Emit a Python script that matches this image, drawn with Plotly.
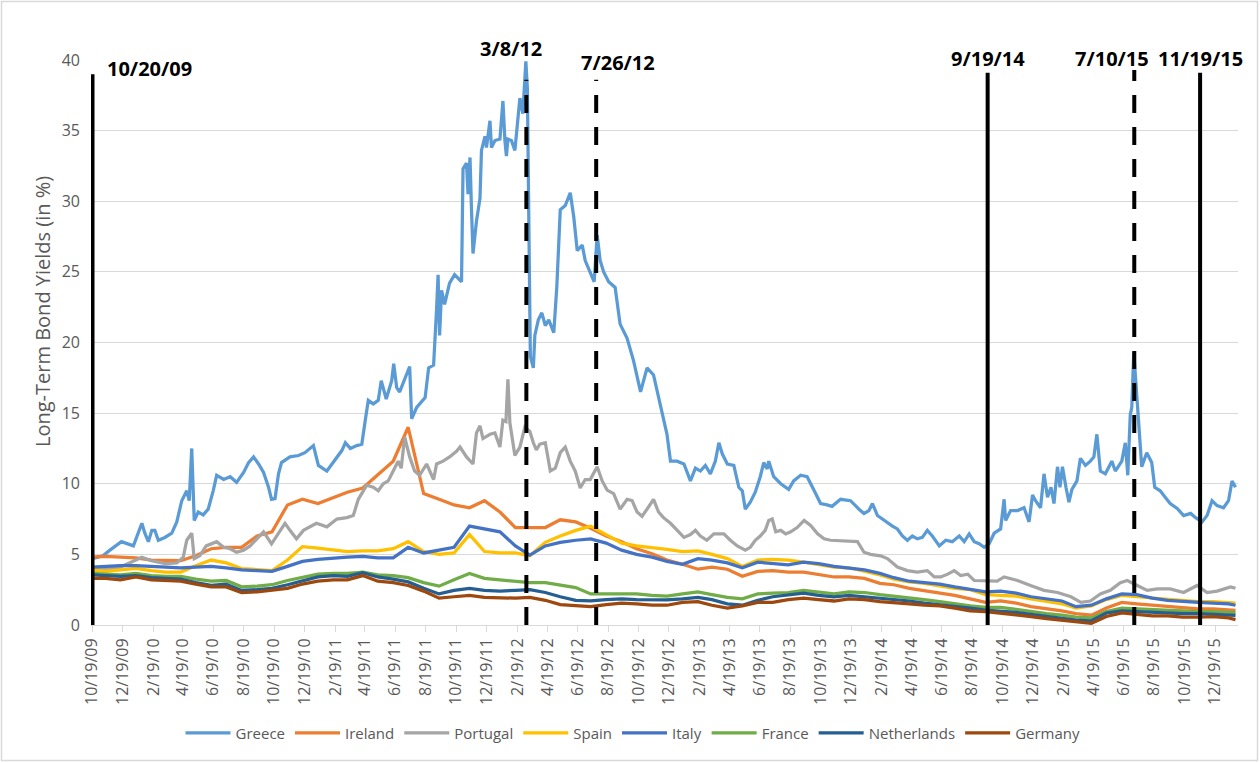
import pandas as pd
import plotly.graph_objects as go

# ---------------- data ----------------
monthly_dates = (["2009-10-19"] +
                 [d.strftime("%Y-%m-15") for d in pd.date_range("2009-11-01", "2016-01-01", freq="MS")] +
                 ["2016-01-29"])

ireland = [4.8, 4.85, 4.8, 4.75, 4.6, 4.55, 4.55, 4.9, 5.4, 5.5, 5.5, 6.3, 6.6, 8.5, 8.9,
           8.6, 9.0, 9.4, 9.7, 10.6, 11.6, 14.0, 9.3, 8.9, 8.5, 8.3, 8.8,
           8.0, 6.9, 6.9, 6.9, 7.45, 7.3, 6.85, 6.3, 5.9, 5.4, 5.05, 4.6,
           4.3, 3.95, 4.1, 3.95, 3.45, 3.8, 3.85, 3.75, 3.75, 3.55, 3.4, 3.4,
           3.3, 2.95, 2.85, 2.6, 2.45, 2.25, 2.1, 1.85, 1.6, 1.7, 1.55, 1.3,
           1.15, 1.0, 0.8, 0.7, 1.2, 1.6, 1.5, 1.4, 1.3, 1.2, 1.15, 1.15,
           1.1, 1.03]
spain = [3.9, 3.8, 3.9, 4.0, 3.85, 3.75, 3.75, 4.2, 4.6, 4.4, 4.0, 3.95, 3.85, 4.6, 5.55,
         5.45, 5.3, 5.2, 5.25, 5.25, 5.4, 5.9, 5.2, 5.0, 5.1, 6.4, 5.2,
         5.1, 5.1, 4.9, 5.85, 6.3, 6.7, 7.0, 6.4, 5.8, 5.6, 5.5, 5.35,
         5.2, 5.25, 5.0, 4.7, 4.15, 4.6, 4.65, 4.6, 4.45, 4.3, 4.1, 4.05,
         3.8, 3.55, 3.25, 3.05, 2.95, 2.75, 2.6, 2.5, 2.15, 2.1, 2.05, 1.85,
         1.65, 1.5, 1.2, 1.35, 1.8, 2.1, 2.0, 1.9, 1.85, 1.75, 1.65, 1.65,
         1.6, 1.55]
italy = [4.1, 4.15, 4.2, 4.2, 4.15, 4.05, 4.05, 4.1, 4.15, 4.05, 3.9, 3.85, 3.8, 4.15, 4.5,
         4.65, 4.75, 4.8, 4.85, 4.75, 4.75, 5.5, 5.1, 5.3, 5.5, 7.0, 6.8,
         6.6, 5.6, 4.95, 5.6, 5.85, 6.0, 6.1, 5.8, 5.3, 5.0, 4.8, 4.5,
         4.3, 4.7, 4.6, 4.4, 4.05, 4.45, 4.35, 4.25, 4.45, 4.35, 4.15, 4.05,
         3.9, 3.65, 3.35, 3.1, 3.0, 2.9, 2.7, 2.5, 2.35, 2.4, 2.25, 2.0,
         1.85, 1.7, 1.3, 1.4, 1.85, 2.2, 2.15, 1.9, 1.75, 1.65, 1.6, 1.55,
         1.5, 1.4]
france = [3.65, 3.6, 3.55, 3.65, 3.5, 3.45, 3.45, 3.25, 3.1, 3.15, 2.7, 2.75, 2.85, 3.15, 3.4,
          3.6, 3.65, 3.65, 3.75, 3.55, 3.5, 3.35, 3.0, 2.75, 3.2, 3.65, 3.3,
          3.2, 3.05, 3.0, 3.0, 2.85, 2.65, 2.2, 2.2, 2.2, 2.2, 2.1, 2.05,
          2.2, 2.35, 2.15, 1.95, 1.85, 2.2, 2.25, 2.3, 2.45, 2.35, 2.2, 2.35,
          2.3, 2.15, 2.05, 1.9, 1.8, 1.65, 1.5, 1.35, 1.25, 1.25, 1.1, 0.95,
          0.8, 0.7, 0.55, 0.5, 0.95, 1.2, 1.15, 1.05, 1.05, 1.0, 0.95, 0.95,
          0.92, 0.88]
netherlands = [3.55, 3.5, 3.45, 3.5, 3.35, 3.3, 3.25, 3.0, 2.8, 2.9, 2.45, 2.5, 2.6, 2.85, 3.1,
               3.4, 3.5, 3.45, 3.7, 3.4, 3.25, 3.05, 2.6, 2.2, 2.45, 2.6, 2.45,
               2.4, 2.45, 2.5, 2.3, 2.0, 1.75, 1.7, 1.8, 1.85, 1.8, 1.78, 1.78,
               1.85, 1.95, 1.8, 1.5, 1.4, 1.75, 2.0, 2.1, 2.25, 2.1, 2.0, 2.1,
               2.0, 1.9, 1.8, 1.7, 1.55, 1.45, 1.35, 1.2, 1.05, 1.0, 0.9, 0.75,
               0.6, 0.5, 0.35, 0.3, 0.85, 1.0, 0.95, 0.88, 0.82, 0.8, 0.8, 0.77,
               0.72, 0.68]
germany = [3.3, 3.3, 3.2, 3.4, 3.2, 3.15, 3.1, 2.9, 2.7, 2.7, 2.3, 2.35, 2.45, 2.6, 2.9,
           3.1, 3.2, 3.2, 3.5, 3.1, 3.0, 2.8, 2.4, 1.9, 2.0, 2.1, 1.95,
           1.9, 1.9, 1.95, 1.75, 1.45, 1.4, 1.3, 1.45, 1.55, 1.5, 1.4, 1.4,
           1.6, 1.65, 1.4, 1.2, 1.35, 1.6, 1.6, 1.8, 1.9, 1.8, 1.7, 1.85,
           1.8, 1.65, 1.6, 1.5, 1.4, 1.35, 1.2, 1.0, 0.95, 0.85, 0.75, 0.6,
           0.45, 0.35, 0.25, 0.12, 0.6, 0.85, 0.75, 0.65, 0.65, 0.55, 0.55, 0.6,
           0.5, 0.38]

greece_dates = [
    "2009-10-19", "2009-11-10", "2009-11-24", "2009-12-17", "2010-01-10", "2010-01-27", "2010-02-02",
    "2010-02-09", "2010-02-16", "2010-02-22", "2010-03-01", "2010-03-14", "2010-03-28", "2010-04-07",
    "2010-04-17", "2010-04-27", "2010-05-02", "2010-05-07", "2010-05-12", "2010-05-20", "2010-05-30",
    "2010-06-09", "2010-06-19", "2010-06-26", "2010-07-10", "2010-07-23", "2010-08-05", "2010-08-19",
    "2010-08-29", "2010-09-08", "2010-09-18", "2010-09-28", "2010-10-08", "2010-10-14", "2010-10-21",
    "2010-10-28", "2010-11-03", "2010-11-20", "2010-12-07", "2010-12-20", "2011-01-06", "2011-01-16",
    "2011-02-02", "2011-02-08", "2011-02-22", "2011-03-04", "2011-03-11", "2011-03-21", "2011-04-03",
    "2011-04-13", "2011-04-20", "2011-04-26", "2011-05-06", "2011-05-16", "2011-05-22", "2011-06-01",
    "2011-06-12", "2011-06-16", "2011-06-22", "2011-06-28", "2011-07-18", "2011-07-22", "2011-08-01",
    "2011-08-18", "2011-08-25", "2011-09-04", "2011-09-10", "2011-09-13", "2011-09-16", "2011-09-20",
    "2011-09-26", "2011-10-06", "2011-10-16", "2011-10-30", "2011-11-02", "2011-11-09", "2011-11-12",
    "2011-11-16", "2011-11-19", "2011-11-22", "2011-11-29", "2011-12-06", "2011-12-09", "2011-12-16",
    "2011-12-19", "2011-12-26", "2011-12-29", "2012-01-05", "2012-01-15", "2012-01-21", "2012-01-25",
    "2012-01-28", "2012-01-31", "2012-02-07", "2012-02-14", "2012-02-20", "2012-02-24", "2012-03-01",
    "2012-03-07", "2012-03-10", "2012-03-14", "2012-03-16", "2012-03-22", "2012-03-25", "2012-04-01",
    "2012-04-08", "2012-04-15", "2012-04-22", "2012-05-02", "2012-05-08", "2012-05-15", "2012-05-25",
    "2012-06-04", "2012-06-11", "2012-06-18", "2012-06-28", "2012-07-04", "2012-07-14", "2012-07-22",
    "2012-07-28", "2012-08-03", "2012-08-10", "2012-08-20", "2012-09-02", "2012-09-12", "2012-09-26",
    "2012-10-09", "2012-10-23", "2012-11-05", "2012-11-18", "2012-12-02", "2012-12-15", "2012-12-22",
    "2013-01-04", "2013-01-18", "2013-01-31", "2013-02-10", "2013-02-20", "2013-03-02", "2013-03-12",
    "2013-03-22", "2013-03-29", "2013-04-05", "2013-04-15", "2013-04-28", "2013-05-08", "2013-05-15",
    "2013-05-21", "2013-05-31", "2013-06-10", "2013-06-20", "2013-06-27", "2013-07-04", "2013-07-07",
    "2013-07-17", "2013-07-31", "2013-08-16", "2013-08-26", "2013-09-09", "2013-09-22", "2013-10-05",
    "2013-10-19", "2013-11-01", "2013-11-11", "2013-11-28", "2013-12-18", "2014-01-04", "2014-01-14",
    "2014-01-24", "2014-01-31", "2014-02-10", "2014-02-20", "2014-03-02", "2014-03-12", "2014-03-22",
    "2014-04-01", "2014-04-11", "2014-04-21", "2014-05-01", "2014-05-11", "2014-05-21", "2014-05-31",
    "2014-06-14", "2014-06-27", "2014-07-10", "2014-07-24", "2014-08-03", "2014-08-13", "2014-08-23",
    "2014-09-02", "2014-09-12", "2014-09-22", "2014-10-02", "2014-10-15", "2014-10-22", "2014-10-25",
    "2014-11-04", "2014-11-18", "2014-12-01", "2014-12-11", "2014-12-18", "2014-12-24", "2015-01-03",
    "2015-01-10", "2015-01-17", "2015-01-24", "2015-01-30", "2015-02-06", "2015-02-11", "2015-02-16",
    "2015-02-23", "2015-03-01", "2015-03-07", "2015-03-17", "2015-03-24", "2015-04-03", "2015-04-13",
    "2015-04-20", "2015-04-26", "2015-05-03", "2015-05-13", "2015-05-20", "2015-05-26", "2015-06-02",
    "2015-06-09", "2015-06-15", "2015-06-22", "2015-06-27", "2015-07-02", "2015-07-05", "2015-07-09",
    "2015-07-13", "2015-07-21", "2015-07-25", "2015-08-04", "2015-08-14", "2015-08-20", "2015-08-31",
    "2015-09-10", "2015-09-20", "2015-10-04", "2015-10-17", "2015-10-31", "2015-11-10", "2015-11-23",
    "2015-12-03", "2015-12-13", "2015-12-23", "2016-01-05", "2016-01-15", "2016-01-22", "2016-01-29"]
greece = [
    4.7, 4.9, 5.3, 5.9, 5.6, 7.2, 6.5,
    5.9, 6.7, 6.7, 6.0, 6.2, 6.5, 7.3,
    8.8, 9.5, 8.8, 12.5, 7.4, 8.0, 7.8,
    8.2, 9.5, 10.6, 10.3, 10.5, 10.1, 10.8,
    11.5, 11.9, 11.4, 10.8, 9.75, 8.9, 8.95,
    10.7, 11.5, 11.9, 12.0, 12.2, 12.7, 11.3,
    10.9, 11.2, 11.9, 12.35, 12.9, 12.5, 12.7,
    12.8, 14.5, 15.9, 15.65, 15.9, 17.3, 16.0,
    17.3, 18.5, 16.8, 16.5, 18.3, 14.6, 15.4,
    16.1, 18.2, 18.4, 22.4, 24.8, 20.5, 23.7,
    22.7, 24.2, 24.8, 24.3, 32.3, 32.7, 30.5,
    33.1, 29.4, 26.3, 28.6, 30.2, 33.6, 34.6,
    33.8, 35.7, 33.8, 34.3, 34.4, 37.1, 34.3,
    33.2, 34.4, 34.3, 33.6, 35.7, 37.3, 36.2,
    39.9, 38.0, 23.7, 19.0, 18.2, 20.5, 21.6,
    22.1, 21.2, 21.6, 20.7, 23.9, 29.4, 29.7,
    30.6, 28.9, 26.5, 26.9, 25.8, 25.0, 24.3,
    27.6, 25.8, 25.0, 24.3, 23.9, 21.3, 20.3,
    18.7, 16.5, 18.2, 17.7, 15.6, 13.5, 11.6,
    11.6, 11.4, 10.2, 11.1, 10.9, 11.3, 10.7,
    11.6, 12.9, 12.1, 11.4, 11.3, 9.75, 9.5,
    8.2, 8.7, 9.4, 10.5, 11.5, 11.05, 11.6,
    10.5, 10.0, 9.6, 10.2, 10.6, 10.5, 9.6,
    8.6, 8.5, 8.4, 8.9, 8.8, 8.2, 7.9,
    8.1, 8.6, 7.75, 7.5, 7.2, 7.0, 6.8,
    6.3, 6.0, 6.3, 6.1, 6.2, 6.7, 6.3,
    5.6, 6.0, 5.9, 6.3, 5.9, 6.45, 5.9,
    5.75, 5.5, 5.75, 6.5, 6.8, 8.9, 7.4,
    8.1, 8.1, 8.3, 7.3, 9.2, 8.8, 8.3,
    10.7, 9.05, 9.75, 8.6, 11.2, 9.75, 11.2,
    9.75, 8.7, 9.6, 10.2, 11.8, 11.3, 11.6,
    11.9, 13.5, 10.9, 10.7, 11.2, 11.6, 10.9,
    11.3, 11.6, 12.9, 10.6, 14.9, 15.4, 19.3,
    17.3, 12.6, 11.2, 12.2, 11.5, 9.75, 9.5,
    9.05, 8.6, 8.25, 7.75, 7.9, 7.6, 7.3,
    7.75, 8.8, 8.45, 8.3, 8.8, 10.2, 9.75]

portugal_dates = [
    "2009-10-19", "2009-11-15", "2009-12-15", "2010-01-10", "2010-01-27", "2010-02-15", "2010-03-15",
    "2010-04-07", "2010-04-20", "2010-04-27", "2010-05-07", "2010-05-12", "2010-05-23", "2010-06-05",
    "2010-06-26", "2010-07-10", "2010-07-23", "2010-08-05", "2010-08-19", "2010-09-01", "2010-09-15",
    "2010-09-28", "2010-10-14", "2010-10-28", "2010-11-10", "2010-11-20", "2010-12-03", "2010-12-17",
    "2011-01-12", "2011-02-02", "2011-02-22", "2011-03-14", "2011-03-27", "2011-04-06", "2011-04-13",
    "2011-04-23", "2011-05-06", "2011-05-16", "2011-05-26", "2011-06-05", "2011-06-15", "2011-06-25",
    "2011-07-01", "2011-07-08", "2011-07-18", "2011-07-28", "2011-08-07", "2011-08-21", "2011-09-04",
    "2011-09-10", "2011-09-23", "2011-10-06", "2011-10-20", "2011-10-27", "2011-11-09", "2011-11-22",
    "2011-11-29", "2011-12-06", "2011-12-12", "2011-12-26", "2012-01-05", "2012-01-15", "2012-01-21",
    "2012-01-27", "2012-01-31", "2012-02-04", "2012-02-14", "2012-02-24", "2012-03-05", "2012-03-15",
    "2012-03-22", "2012-03-28", "2012-04-04", "2012-04-15", "2012-04-25", "2012-05-05", "2012-05-15",
    "2012-05-25", "2012-06-04", "2012-06-14", "2012-06-24", "2012-07-04", "2012-07-14", "2012-07-28",
    "2012-08-07", "2012-08-17", "2012-08-30", "2012-09-12", "2012-09-26", "2012-10-06", "2012-10-16",
    "2012-10-26", "2012-11-05", "2012-11-18", "2012-11-28", "2012-12-08", "2012-12-22", "2013-01-04",
    "2013-01-18", "2013-01-31", "2013-02-10", "2013-02-20", "2013-03-05", "2013-03-19", "2013-04-08",
    "2013-04-21", "2013-05-05", "2013-05-21", "2013-05-31", "2013-06-10", "2013-06-20", "2013-06-30",
    "2013-07-07", "2013-07-14", "2013-07-21", "2013-07-31", "2013-08-10", "2013-08-20", "2013-09-02",
    "2013-09-16", "2013-09-29", "2013-10-13", "2013-10-26", "2013-11-08", "2013-11-28", "2013-12-18",
    "2014-01-01", "2014-01-14", "2014-01-27", "2014-02-16", "2014-03-02", "2014-03-22", "2014-04-11",
    "2014-05-01", "2014-05-21", "2014-06-04", "2014-06-17", "2014-07-01", "2014-07-14", "2014-07-27",
    "2014-08-10", "2014-08-23", "2014-09-19", "2014-10-08", "2014-10-22", "2014-11-18", "2014-12-14",
    "2015-01-10", "2015-02-06", "2015-03-05", "2015-03-25", "2015-04-13", "2015-05-03", "2015-05-23",
    "2015-06-12", "2015-06-26", "2015-07-16", "2015-08-05", "2015-08-25", "2015-09-20", "2015-10-17",
    "2015-11-13", "2015-12-03", "2015-12-23", "2016-01-19", "2016-01-29"]
portugal = [
    3.9, 3.95, 4.1, 4.5, 4.8, 4.55, 4.35,
    4.4, 4.8, 6.0, 6.5, 4.7, 4.9, 5.6,
    5.9, 5.5, 5.4, 5.15, 5.3, 5.6, 6.1,
    6.6, 5.75, 6.5, 7.2, 6.7, 6.1, 6.7,
    7.2, 6.95, 7.5, 7.6, 7.75, 8.9, 9.3,
    9.9, 9.75, 9.5, 10.0, 10.2, 10.9, 11.6,
    11.1, 13.3, 11.9, 10.9, 10.6, 11.4, 10.3,
    11.4, 11.6, 11.9, 12.3, 12.6, 11.9, 11.4,
    13.6, 14.1, 13.2, 13.5, 13.6, 12.6, 14.5,
    14.4, 17.4, 14.3, 12.0, 12.6, 14.0, 13.7,
    12.9, 12.4, 12.8, 12.9, 10.9, 11.1, 12.2,
    12.6, 11.6, 10.9, 9.7, 10.3, 10.3, 11.2,
    10.2, 9.55, 9.3, 8.2, 8.9, 8.8, 8.0,
    7.7, 8.2, 8.9, 8.0, 7.6, 7.2, 6.7,
    6.2, 6.4, 6.7, 6.3, 6.0, 6.45, 6.45,
    6.0, 5.6, 5.3, 5.5, 6.0, 6.3, 6.7,
    7.4, 7.5, 6.6, 6.7, 6.45, 6.6, 6.9,
    7.4, 7.05, 6.45, 6.1, 6.0, 5.95, 5.95,
    5.9, 5.15, 5.0, 4.9, 4.7, 4.1, 3.85,
    3.75, 3.85, 3.4, 3.4, 3.6, 3.85, 3.5,
    3.6, 3.15, 3.15, 3.1, 3.4, 3.15, 2.8,
    2.45, 2.3, 2.0, 1.6, 1.7, 2.2, 2.45,
    3.0, 3.15, 2.8, 2.45, 2.55, 2.55, 2.3,
    2.8, 2.3, 2.4, 2.7, 2.6]

tick_labels = ["10/19/09", "12/19/09", "2/19/10", "4/19/10", "6/19/10", "8/19/10", "10/19/10",
               "12/19/10", "2/19/11", "4/19/11", "6/19/11", "8/19/11", "10/19/11", "12/19/11",
               "2/19/12", "4/19/12", "6/19/12", "8/19/12", "10/19/12", "12/19/12", "2/19/13",
               "4/19/13", "6/19/13", "8/19/13", "10/19/13", "12/19/13", "2/19/14", "4/19/14",
               "6/19/14", "8/19/14", "10/19/14", "12/19/14", "2/19/15", "4/19/15", "6/19/15",
               "8/19/15", "10/19/15", "12/19/15"]

event_dates = ["2009-10-20", "2012-03-08", "2012-07-26", "2014-09-19", "2015-07-10", "2015-11-19"]
event_labels = ["10/20/09", "3/8/12", "7/26/12", "9/19/14", "7/10/15", "11/19/15"]
event_styles = ["solid", "dash", "dash", "solid", "dash", "solid"]

# ---------------- figure ----------------
FONT = "Open Sans"
TXT = "#595959"
GRID = "#D9D9D9"

series = [
    ("Greece", greece_dates, greece, "#5B9BD5"),
    ("Ireland", monthly_dates, ireland, "#ED7D31"),
    ("Portugal", portugal_dates, portugal, "#A5A5A5"),
    ("Spain", monthly_dates, spain, "#FFC000"),
    ("Italy", monthly_dates, italy, "#4472C4"),
    ("France", monthly_dates, france, "#70AD47"),
    ("Netherlands", monthly_dates, netherlands, "#255E91"),
    ("Germany", monthly_dates, germany, "#9E480E"),
]

fig = go.Figure()
for name, xs, ys, col in series:
    fig.add_trace(go.Scatter(x=pd.to_datetime(xs), y=ys, name=name, mode="lines",
                             line=dict(color=col, width=3.25), hoverinfo="x+y+name"))

W, H = 1260, 763
ML, MR, MT, MB = 91, 22, 60, 138
pw, ph = W - ML - MR, H - MT - MB

tickvals = pd.to_datetime(tick_labels, format="%m/%d/%y")

# event lines
label_shift = [12, -15, 22, 0, -22, 0]
label_ypx = [69, 48, 63, 58, 58, 58]
line_top = [39.0, 38.6, 38.6, 39.1, 39.3, 39.1]
for d, lab, sty, dx, ypx, top in zip(event_dates, event_labels, event_styles, label_shift, label_ypx, line_top):
    fig.add_shape(type="line", xref="x", yref="y", x0=d, x1=d, y0=0, y1=top, layer="above",
                  line=dict(color="black", width=4, dash="solid" if sty == "solid" else "18px,14px"))
    fig.add_annotation(x=d, xref="x", y=(H - MB - ypx) / ph, yref="paper",
                       text="<b>%s</b>" % lab, showarrow=False,
                       xanchor="left" if lab == "10/20/09" else "center", yanchor="middle",
                       xshift=dx, font=dict(family=FONT, size=20, color="black"))

# y-axis title
fig.add_annotation(x=(42 - ML) / pw, xref="paper", y=(H - MB - 312) / ph, yref="paper",
                   text="Long-Term Bond Yields (in %)", textangle=-90, showarrow=False,
                   xanchor="center", yanchor="middle", font=dict(family=FONT, size=20, color=TXT))

# outer border
fig.add_shape(type="rect", xref="paper", yref="paper",
              x0=(1.5 - ML) / pw, x1=(W - 2.5 - ML) / pw,
              y0=-(MB - 2.5) / ph, y1=(H - MB - 1.5) / ph,
              line=dict(color=GRID, width=1.5), fillcolor="rgba(0,0,0,0)", layer="below")

fig.update_layout(
    width=W, height=H,
    margin=dict(l=ML, r=MR, t=MT, b=MB, autoexpand=False),
    paper_bgcolor="white", plot_bgcolor="white",
    font=dict(family=FONT, color=TXT, size=15),
    showlegend=True,
    legend=dict(orientation="h", x=(633 - ML) / pw, xanchor="center",
                y=-(733 - (H - MB)) / ph, yanchor="middle", itemwidth=45,
                font=dict(family=FONT, size=15, color=TXT), traceorder="normal",
                bgcolor="rgba(0,0,0,0)"),
    xaxis=dict(type="date", range=["2009-10-17", "2016-02-03"],
               tickvals=tickvals, ticktext=tick_labels, tickangle=-90,
               tickfont=dict(family=FONT, size=16, color=TXT),
               ticks="outside", ticklen=6, tickcolor=GRID, tickwidth=1,
               showline=True, linecolor=GRID, linewidth=1,
               showgrid=False, zeroline=False),
    yaxis=dict(range=[0, 40], tickvals=[0, 5, 10, 15, 20, 25, 30, 35, 40],
               tickfont=dict(family=FONT, size=16, color=TXT),
               showgrid=True, gridcolor=GRID, gridwidth=1,
               zeroline=False, showline=False, ticks="", ticklabelstandoff=10),
)

fig.write_html("out.html", config={"displayModeBar": False},
               post_script="document.body.style.margin='0px';")
